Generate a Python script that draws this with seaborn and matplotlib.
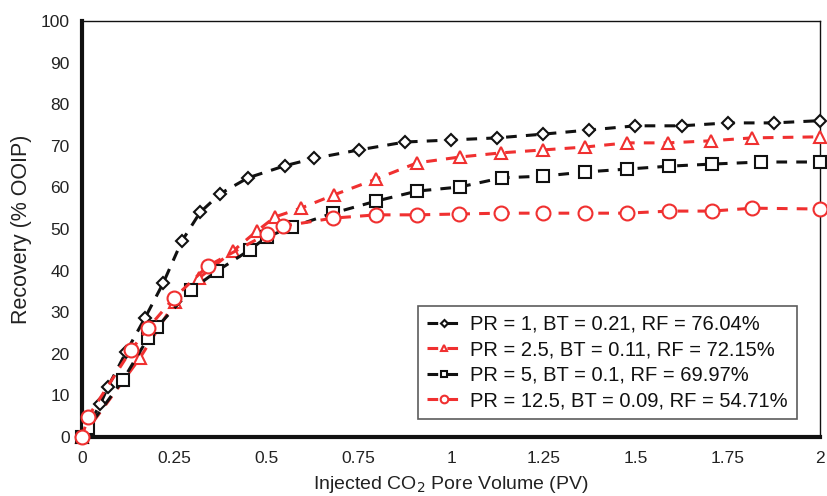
import matplotlib
matplotlib.use("Agg")
import matplotlib.pyplot as plt
import seaborn as sns
import pandas as pd

# ---- data ----
x_pr1 = [0, 0.05, 0.07, 0.12, 0.17, 0.22, 0.27, 0.32, 0.375, 0.45, 0.55, 0.63, 0.75,
         0.875, 1.0, 1.125, 1.25, 1.375, 1.5, 1.625, 1.75, 1.875, 2.0]
y_pr1 = [0, 8, 12, 20.5, 28.5, 37, 47, 54, 58.5, 62.3, 65.2, 67, 69,
         70.9, 71.4, 71.9, 72.8, 73.8, 74.8, 74.8, 75.5, 75.5, 76.04]

x_pr25 = [0, 0.157, 0.252, 0.317, 0.409, 0.474, 0.523, 0.593, 0.683, 0.797, 0.908,
          1.024, 1.136, 1.249, 1.363, 1.477, 1.588, 1.705, 1.816, 2.0]
y_pr25 = [0, 19.0, 32.5, 38.2, 44.7, 49.5, 52.9, 55.0, 58.2, 62.0, 65.9,
          67.3, 68.3, 69.0, 69.7, 70.7, 70.7, 71.2, 71.9, 72.15]

x_pr5 = [0, 0.016, 0.111, 0.179, 0.203, 0.295, 0.366, 0.455, 0.501, 0.569, 0.680,
         0.797, 0.908, 1.024, 1.138, 1.249, 1.363, 1.477, 1.591, 1.707, 1.840, 2.0]
y_pr5 = [0, 2.2, 13.7, 23.8, 26.4, 35.3, 39.9, 45.0, 48.1, 50.5, 53.8,
         56.7, 59.1, 60.1, 62.3, 62.7, 63.7, 64.4, 65.1, 65.6, 66.1, 66.1]

x_pr125 = [0, 0.016, 0.133, 0.179, 0.249, 0.341, 0.501, 0.545, 0.680, 0.797, 0.908,
           1.022, 1.136, 1.249, 1.363, 1.477, 1.591, 1.707, 1.816, 2.0]
y_pr125 = [0, 4.8, 20.9, 26.2, 33.4, 41.1, 48.8, 50.7, 52.6, 53.4, 53.4,
           53.6, 53.8, 53.8, 53.8, 53.8, 54.3, 54.3, 55.0, 54.8]

labels = ["PR = 1, BT = 0.21, RF = 76.04%",
          "PR = 2.5, BT = 0.11, RF = 72.15%",
          "PR = 5, BT = 0.1, RF = 69.97%",
          "PR = 12.5, BT = 0.09, RF = 54.71%"]

x_ticks = [0, 0.25, 0.5, 0.75, 1, 1.25, 1.5, 1.75, 2]
x_ticklabels = ["0", "0.25", "0.5", "0.75", "1", "1.25", "1.5", "1.75", "2"]
y_ticks = [0, 10, 20, 30, 40, 50, 60, 70, 80, 90, 100]

# ---- styling ----
sns.set_theme(style="white")
plt.rcParams['font.family'] = ['Liberation Sans', 'DejaVu Sans']
NARROW = ['Liberation Sans Narrow', 'Liberation Sans', 'DejaVu Sans']

BLACK = "#111111"
RED = "#f03030"
series = [
    (x_pr1, y_pr1, BLACK, "D", 6.5),
    (x_pr25, y_pr25, RED, "^", 9),
    (x_pr5, y_pr5, BLACK, "s", 9),
    (x_pr125, y_pr125, RED, "o", 10),
]

fig = plt.figure(figsize=(8.27, 4.96), dpi=100)
ax = fig.add_axes([0.0992, 0.119, 0.8923, 0.8387])

for (xs, ys, col, mk, ms), lab in zip(series, labels):
    df = pd.DataFrame({"x": xs, "y": ys})
    sns.lineplot(data=df, x="x", y="y", ax=ax, color=col, marker=mk,
                 markersize=ms, markerfacecolor="white", markeredgecolor=col,
                 markeredgewidth=1.5, linewidth=2.2, linestyle=(0, (3.5, 3)),
                 label=lab, clip_on=False, zorder=3)

ax.set_xlim(0, 2)
ax.set_ylim(0, 100)
ax.set_xticks(x_ticks)
ax.set_xticklabels(x_ticklabels)
ax.set_yticks(y_ticks)
ax.tick_params(axis="both", length=0, labelsize=12.5, colors="#222222")
ax.tick_params(axis="x", pad=10)
ax.tick_params(axis="y", pad=9)
for lab in ax.get_xticklabels() + ax.get_yticklabels():
    lab.set_fontfamily(NARROW)

for side in ["left", "bottom"]:
    ax.spines[side].set_linewidth(3)
    ax.spines[side].set_color("#111111")
for side in ["top", "right"]:
    ax.spines[side].set_linewidth(1)
    ax.spines[side].set_color("#111111")
    ax.spines[side].set_visible(True)

ax.set_xlabel("Injected CO$_2$ Pore Volume (PV)", fontsize=14, color="#222222",
              labelpad=6, fontfamily=NARROW)
ax.set_ylabel("Recovery (% OOIP)", fontsize=15.5, color="#222222", labelpad=6)

leg = ax.legend(loc="lower right", bbox_to_anchor=(0.969, 0.043), fontsize=14.5,
                frameon=True, fancybox=False, edgecolor="#333333",
                markerscale=0.55, handlelength=1.7, labelspacing=0.32,
                borderpad=0.45, handletextpad=0.45, borderaxespad=0)
leg.get_frame().set_linewidth(1.2)
for t in leg.get_texts():
    t.set_color("#111111")

fig.savefig("out.png", dpi=100)
